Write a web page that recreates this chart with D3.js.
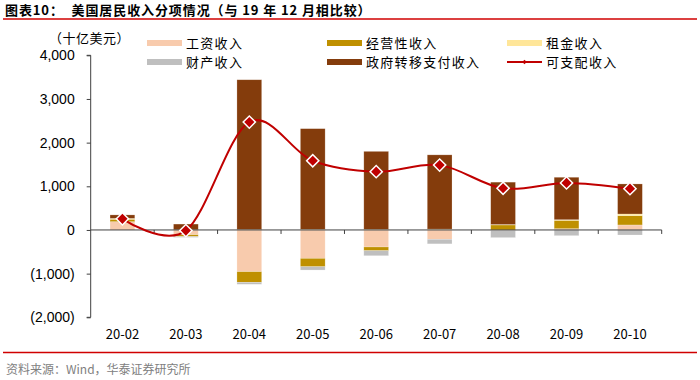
<!DOCTYPE html>
<html>
<head>
<meta charset="utf-8">
<script src="https://cdn.jsdelivr.net/npm/d3@7"></script>
<style>
html,body{margin:0;padding:0;background:#fff;}
svg{display:block;}
</style>
</head>
<body>
<svg id="chart" width="700" height="380"></svg>
<script>
// ---- data (十亿美元, change vs Dec 2019) ----
const categories = ["20-02","20-03","20-04","20-05","20-06","20-07","20-08","20-09","20-10"];
const wage      = [190, -110, -955, -650, -390, -213, -10,   30, 115];
const business  = [ 55,  -40, -243, -192,  -85,    5, 115,  190, 213];
const rent      = [ 20,    5,   10,   15,   15,   15,  10,   15,  38];
const property  = [  0,  -20,  -46,  -76, -115, -105, -165, -130, -115];
const transfer  = [ 80,  130, 3430, 2305, 1785, 1700, 970,  972, 688];
const disposable= [255,  -15, 2470, 1585, 1335, 1485, 955, 1077, 946];
const yTicks = [-2000,-1000,0,1000,2000,3000,4000];
const seriesNames = ["工资收入","经营性收入","租金收入","财产收入","政府转移支付收入"];
const lineName = "可支配收入";

const colors = ["#F8CBAD","#BF9000","#FFE699","#BFBFBF","#843C0C"];
const lineColor = "#C00000";

const svg = d3.select("#chart");
const font = "'Noto Sans CJK SC', 'Noto Sans', sans-serif";
const numFont = "'Liberation Sans', Arial, sans-serif";

// title
svg.append("text").attr("x",5).attr("y",15)
  .attr("font-family",font).attr("font-weight","bold").attr("font-size",13).attr("fill","#000")
  .attr("letter-spacing",0.9)
  .attr("xml:space","preserve")
  .text("图表10：  美国居民收入分项情况（与 19 年 12 月相比较）");
svg.append("line").attr("x1",3).attr("x2",697).attr("y1",19).attr("y2",19)
  .attr("stroke","#D00000").attr("stroke-width",1.5);
svg.append("line").attr("x1",3).attr("x2",697).attr("y1",352.5).attr("y2",352.5)
  .attr("stroke","#D00000").attr("stroke-width",1.5);
svg.append("text").attr("x",6).attr("y",374)
  .attr("font-family",font).attr("font-size",12).attr("fill","#808080")
  .text("资料来源：Wind，华泰证券研究所");

// scales
const x = d3.scaleBand().domain(categories).range([90.7,661.7]).paddingInner(0.61).paddingOuter(0.305);
const xc = d => x(d) + x.bandwidth()/2;
const y = d3.scaleLinear().domain([-2000,4000]).range([317.3,55.3]);

// stacked data
const rows = categories.map((c,i)=>({cat:c, s0:wage[i], s1:business[i], s2:rent[i], s3:property[i], s4:transfer[i]}));
const keys = ["s0","s1","s2","s3","s4"];
const stack = d3.stack().keys(keys).offset(d3.stackOffsetDiverging)(rows);

const g = svg.append("g");
stack.forEach((layer,li)=>{
  g.selectAll(null).data(layer).enter().append("rect")
    .attr("x", d=>x(d.data.cat))
    .attr("width", x.bandwidth())
    .attr("y", d=>y(Math.max(d[0],d[1])))
    .attr("height", d=>Math.abs(y(d[0])-y(d[1])))
    .attr("fill", colors[li])
    .attr("stroke","#ffffff").attr("stroke-opacity",0.35).attr("stroke-width",0.6);
});

// axes
const axisColor = "#404040";
const yAxis = d3.axisLeft(y).tickValues(yTicks).tickSize(4).tickPadding(12)
  .tickFormat(v => v<0 ? "(" + d3.format(",")(-v) + ")" : d3.format(",")(v));
const ya = svg.append("g").attr("transform","translate(90.7,0)").call(yAxis);
ya.select(".domain").attr("stroke",axisColor).attr("d","M-4,55.3H0V317.3H-4");
ya.selectAll(".tick line").attr("stroke",axisColor);
ya.selectAll(".tick text").attr("font-family",numFont).attr("font-size",14).attr("fill","#000");

const xAxis = d3.axisBottom(x).tickSize(0).tickPadding(0);
const xa = svg.append("g").attr("transform",`translate(0,${y(0)})`).call(xAxis);
xa.select(".domain").attr("stroke",axisColor).attr("d","M90.7,0H661.7");
xa.selectAll(".tick text").attr("font-family",font).attr("font-size",13).attr("fill","#000")
  .attr("y", 334 - y(0)).attr("dy","0.35em");
// boundary ticks
const bounds = categories.map((c,i)=> x(c) - x.step()*x.paddingInner()/2).slice(1).concat([661.7]);
xa.selectAll(".btick").data(bounds).enter().append("line")
  .attr("x1",d=>d).attr("x2",d=>d).attr("y1",0).attr("y2",4).attr("stroke",axisColor);

// unit label
svg.append("text").attr("x",49).attr("y",43).attr("font-family",font).attr("font-size",13).attr("fill","#000")
  .attr("letter-spacing",0.5)
  .text("（十亿美元）");

// line
const line = d3.line().x((d,i)=>xc(categories[i])).y(d=>y(d)).curve(d3.curveCardinal.tension(0));
svg.append("path").datum(disposable).attr("d",line).attr("fill","none")
  .attr("stroke",lineColor).attr("stroke-width",2);
svg.selectAll(".mk").data(disposable).enter().append("path")
  .attr("transform",(d,i)=>`translate(${xc(categories[i])},${y(d)}) rotate(45)`)
  .attr("d", d3.symbol().type(d3.symbolSquare).size(75))
  .attr("fill",lineColor).attr("stroke","#fff").attr("stroke-width",1.5);

// legend
const legendPos = [[147,43],[327,43],[507,43],[147,62],[327,62],[507,62]];
seriesNames.forEach((n,i)=>{
  const [lx,ly] = legendPos[i];
  svg.append("rect").attr("x",lx).attr("y",ly-3).attr("width",35).attr("height",6).attr("fill",colors[i]);
  svg.append("text").attr("x",lx+39).attr("y",ly).attr("dy","0.36em")
    .attr("font-family",font).attr("font-size",13).attr("fill","#000")
    .attr("letter-spacing",1.3).text(n);
});
{
  const [lx,ly] = legendPos[5];
  svg.append("line").attr("x1",lx).attr("x2",lx+35).attr("y1",ly).attr("y2",ly).attr("stroke",lineColor).attr("stroke-width",2);
  svg.append("path").attr("transform",`translate(${lx+17.5},${ly}) rotate(45)`)
    .attr("d", d3.symbol().type(d3.symbolSquare).size(10)).attr("fill",lineColor);
  svg.append("text").attr("x",lx+39).attr("y",ly).attr("dy","0.36em")
    .attr("font-family",font).attr("font-size",13).attr("fill","#000")
    .attr("letter-spacing",1.3).text(lineName);
}
</script>
</body>
</html>
